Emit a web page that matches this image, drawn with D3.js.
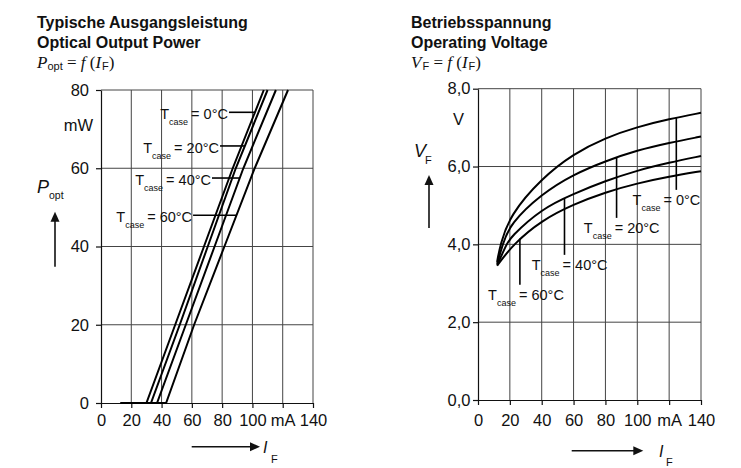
<!DOCTYPE html>
<html lang="de">
<head>
<meta charset="UTF-8" />
<title>Ausgangsleistung / Betriebsspannung</title>
<style>
  body { margin: 0; background: #fff; }
  svg text { font-family: "Liberation Sans", Arial, sans-serif; fill: #111; }
  .title { font-weight: bold; font-size: 16px; }
  .serif { font-family: "Liberation Serif", "Times New Roman", serif; font-size: 17px; }
  .tick text { font-size: 16.5px; }
</style>
</head>
<body>
<script src="https://cdn.jsdelivr.net/npm/d3@7"></script>
<div id="app"></div>
<script>
// ---- data ----
const currentTicks = [0, 20, 40, 60, 80, 100, 120, 140];
const currentLabels = ["0", "20", "40", "60", "80", "100", "mA", "140"];
const powerTicks = [0, 20, 40, 60, 80];
const powerLabels = ["0", "20", "40", "60", "80"];
const voltTicks = [0, 2, 4, 6, 8];
const voltLabels = ["0,0", "2,0", "4,0", "6,0", "8,0"];
const temps = ["0°C", "20°C", "40°C", "60°C"];

// P_opt (mW) over I_F (mA)
const popt0 = [[13, 0], [30, 0], [49, 20], [68, 40], [87, 60], [107.5, 80]];
const popt20 = [[13, 0], [33, 0], [52, 20], [70.5, 40], [89, 60], [110, 80]];
const popt40 = [[13, 0], [37, 0], [56, 20], [75, 40], [94, 60], [115.5, 80]];
const popt60 = [[13, 0], [43, 0], [61.5, 20], [81.5, 40], [101.5, 60], [123.5, 80]];

// V_F (V) over I_F (mA)
const vf0 = [[12, 3.55], [14, 4.0], [20, 4.75], [40, 5.7], [60, 6.33], [80, 6.74], [100, 7.02], [120, 7.22], [140, 7.38]];
const vf20 = [[12, 3.5], [15.5, 4.0], [20, 4.52], [40, 5.3], [60, 5.8], [80, 6.14], [100, 6.42], [120, 6.61], [140, 6.77]];
const vf40 = [[12, 3.47], [18, 4.0], [20, 4.17], [40, 4.92], [60, 5.3], [80, 5.63], [100, 5.9], [120, 6.1], [140, 6.27]];
const vf60 = [[12, 3.45], [22, 4.0], [40, 4.62], [60, 5.03], [80, 5.34], [100, 5.57], [120, 5.74], [140, 5.88]];

// ---- canvas ----
const svg = d3.select("#app").append("svg")
  .attr("width", 741).attr("height", 468);

// where the T_case labels sit (data units)
const leftLabelPos = [{ p: 74.3, from: 84.5 }, { p: 65.7, from: 78.6 }, { p: 57.5, from: 73.3 }, { p: 48, from: 60.8 }];
const rightLabelPos = [{ i: 124.5, low: 5.4, dx: 24 }, { i: 87, low: 4.68, dx: 43 }, { i: 54.3, low: 3.73, dx: 43 }, { i: 26.3, low: 2.96, dx: 44 }];

function titleBlock(x, l1, l2) {
  svg.append("text").attr("class", "title").attr("x", x).attr("y", 28).text(l1);
  svg.append("text").attr("class", "title").attr("x", x).attr("y", 48).text(l2);
}

function tcaseLabel(x, y, t, anchor) {
  const tx = svg.append("text").attr("x", x).attr("y", y)
    .attr("text-anchor", anchor).style("font-size", "14.5px");
  tx.append("tspan").text("T");
  tx.append("tspan").attr("dy", 6).style("font-size", "9px").text("case");
  tx.append("tspan").attr("dy", -6).attr("dx", 3).text("= " + t);
}

function arrowUp(x, y0, y1) {
  svg.append("line").attr("x1", x).attr("x2", x).attr("y1", y0).attr("y2", y1 + 8)
    .attr("stroke", "#111").attr("stroke-width", 1.6);
  svg.append("path").attr("d", `M${x},${y1} L${x - 4.5},${y1 + 10} L${x + 4.5},${y1 + 10} Z`).attr("fill", "#111");
}
function arrowRight(y, x0, x1) {
  svg.append("line").attr("x1", x0).attr("x2", x1 - 8).attr("y1", y).attr("y2", y)
    .attr("stroke", "#111").attr("stroke-width", 1.6);
  svg.append("path").attr("d", `M${x1},${y} L${x1 - 10},${y - 4.5} L${x1 - 10},${y + 4.5} Z`).attr("fill", "#111");
}

function panel(x, y, yTicks, yLabels, padX, padY) {
  const g = svg.append("g");
  // grid
  g.selectAll(".vg").data(currentTicks.slice(1)).enter().append("line")
    .attr("x1", d => x(d)).attr("x2", d => x(d))
    .attr("y1", y.range()[0]).attr("y2", y.range()[1])
    .attr("stroke", "#444").attr("stroke-width", 1);
  g.selectAll(".hg").data(yTicks.slice(1)).enter().append("line")
    .attr("x1", x.range()[0]).attr("x2", x.range()[1])
    .attr("y1", d => y(d)).attr("y2", d => y(d))
    .attr("stroke", "#444").attr("stroke-width", 1);
  // axes
  const ax = g.append("g").attr("transform", `translate(0,${y.range()[0]})`)
    .call(d3.axisBottom(x).tickValues(currentTicks).tickFormat((d, i) => currentLabels[i])
      .tickSize(5).tickSizeOuter(0).tickPadding(padX));
  const ay = g.append("g").attr("transform", `translate(${x.range()[0]},0)`)
    .call(d3.axisLeft(y).tickValues(yTicks).tickFormat((d, i) => yLabels[i])
      .tickSize(5).tickSizeOuter(0).tickPadding(padY));
  [ax, ay].forEach(a => {
    a.selectAll("path,line").attr("stroke", "#111").attr("stroke-width", 1.2);
    a.selectAll("text").attr("fill", "#111").style("font-family", "'Liberation Sans', Arial, sans-serif");
  });
  return g;
}

// ---- left: optical output power ----
titleBlock(37, "Typische Ausgangsleistung", "Optical Output Power");
{
  const f = svg.append("text").attr("x", 37).attr("y", 68).attr("class", "serif");
  f.append("tspan").style("font-style", "italic").text("P");
  f.append("tspan").attr("dy", 2).style("font-family", "'Liberation Sans', Arial").style("font-size", "11px").text("opt");
  f.append("tspan").attr("dy", -2).text(" = ");
  f.append("tspan").style("font-style", "italic").text("f");
  f.append("tspan").text(" (");
  f.append("tspan").style("font-style", "italic").text("I");
  f.append("tspan").attr("dy", 2).attr("dx", 1).style("font-family", "'Liberation Sans', Arial").style("font-size", "11px").text("F");
  f.append("tspan").attr("dy", -2).text(")");
}

const xL = d3.scaleLinear().domain([0, 140]).range([101, 313]);
const yL = d3.scaleLinear().domain([0, 80]).range([403, 90]);
panel(xL, yL, powerTicks, powerLabels, 6, 7);

svg.append("text").attr("x", 93).attr("y", 130.7).attr("text-anchor", "end")
  .style("font-size", "16.5px").text("mW");
svg.append("text").attr("x", 37).attr("y", 193).style("font-size", "18px").style("font-style", "italic").text("P");
svg.append("text").attr("x", 49).attr("y", 199).style("font-size", "10.5px").text("opt");
arrowUp(55, 266.7, 211.7);
arrowRight(446.7, 191.7, 260);
svg.append("text").attr("x", 263).attr("y", 453).style("font-size", "16px").style("font-style", "italic").text("I");
svg.append("text").attr("x", 271).attr("y", 463).style("font-size", "11px").text("F");

const lineL = d3.line().x(d => xL(d[0])).y(d => yL(d[1]));
const poptSeries = [popt0, popt20, popt40, popt60];
svg.selectAll(".popt").data(poptSeries).enter().append("path")
  .attr("d", lineL).attr("fill", "none").attr("stroke", "#000").attr("stroke-width", 2);

// x of a curve at a given power
function currentAt(s, p) {
  for (let k = 1; k < s.length; k++) {
    if (s[k][1] >= p && s[k - 1][1] < p) {
      const t = (p - s[k - 1][1]) / (s[k][1] - s[k - 1][1]);
      return s[k - 1][0] + t * (s[k][0] - s[k - 1][0]);
    }
  }
  return s[s.length - 1][0];
}
leftLabelPos.forEach((l, k) => {
  const yy = yL(l.p);
  svg.append("line").attr("x1", xL(l.from)).attr("x2", xL(currentAt(poptSeries[k], l.p)))
    .attr("y1", yy).attr("y2", yy).attr("stroke", "#000").attr("stroke-width", 1.6);
  tcaseLabel(xL(l.from) - 1, yy + 7, temps[k], "end");
});

// ---- right: operating voltage ----
titleBlock(411, "Betriebsspannung", "Operating Voltage");
{
  const f = svg.append("text").attr("x", 411).attr("y", 68).attr("class", "serif");
  f.append("tspan").style("font-style", "italic").text("V");
  f.append("tspan").attr("dy", 2).attr("dx", 1).style("font-family", "'Liberation Sans', Arial").style("font-size", "11px").text("F");
  f.append("tspan").attr("dy", -2).text(" = ");
  f.append("tspan").style("font-style", "italic").text("f");
  f.append("tspan").text(" (");
  f.append("tspan").style("font-style", "italic").text("I");
  f.append("tspan").attr("dy", 2).attr("dx", 1).style("font-family", "'Liberation Sans', Arial").style("font-size", "11px").text("F");
  f.append("tspan").attr("dy", -2).text(")");
}

const xR = d3.scaleLinear().domain([0, 140]).range([478, 701]);
const yR = d3.scaleLinear().domain([0, 8]).range([400, 88.7]);
panel(xR, yR, voltTicks, voltLabels, 9, 2.5);

svg.append("text").attr("x", 453).attr("y", 125).style("font-size", "16.5px").text("V");
svg.append("text").attr("x", 414).attr("y", 157).style("font-size", "18px").style("font-style", "italic").text("V");
svg.append("text").attr("x", 425).attr("y", 164).style("font-size", "11px").text("F");
arrowUp(429, 228, 175);
arrowRight(450.7, 571.7, 643.3);
svg.append("text").attr("x", 659).attr("y", 457).style("font-size", "16px").style("font-style", "italic").text("I");
svg.append("text").attr("x", 666).attr("y", 466).style("font-size", "11px").text("F");

const lineR = d3.line().x(d => xR(d[0])).y(d => yR(d[1])).curve(d3.curveBasis);
const vfSeries = [vf0, vf20, vf40, vf60];
svg.selectAll(".vf").data(vfSeries).enter().append("path")
  .attr("d", lineR).attr("fill", "none").attr("stroke", "#000").attr("stroke-width", 2);

function voltAt(s, i) {
  for (let k = 1; k < s.length; k++) {
    if (s[k][0] >= i) {
      const t = (i - s[k - 1][0]) / (s[k][0] - s[k - 1][0]);
      return s[k - 1][1] + t * (s[k][1] - s[k - 1][1]);
    }
  }
  return s[s.length - 1][1];
}
rightLabelPos.forEach((l, k) => {
  const xx = xR(l.i);
  svg.append("line").attr("x1", xx).attr("x2", xx)
    .attr("y1", yR(voltAt(vfSeries[k], l.i))).attr("y2", yR(l.low))
    .attr("stroke", "#000").attr("stroke-width", 1.6);
  tcaseLabel(xx + l.dx, yR(l.low) + 15, temps[k], "end");
});
</script>
</body>
</html>
